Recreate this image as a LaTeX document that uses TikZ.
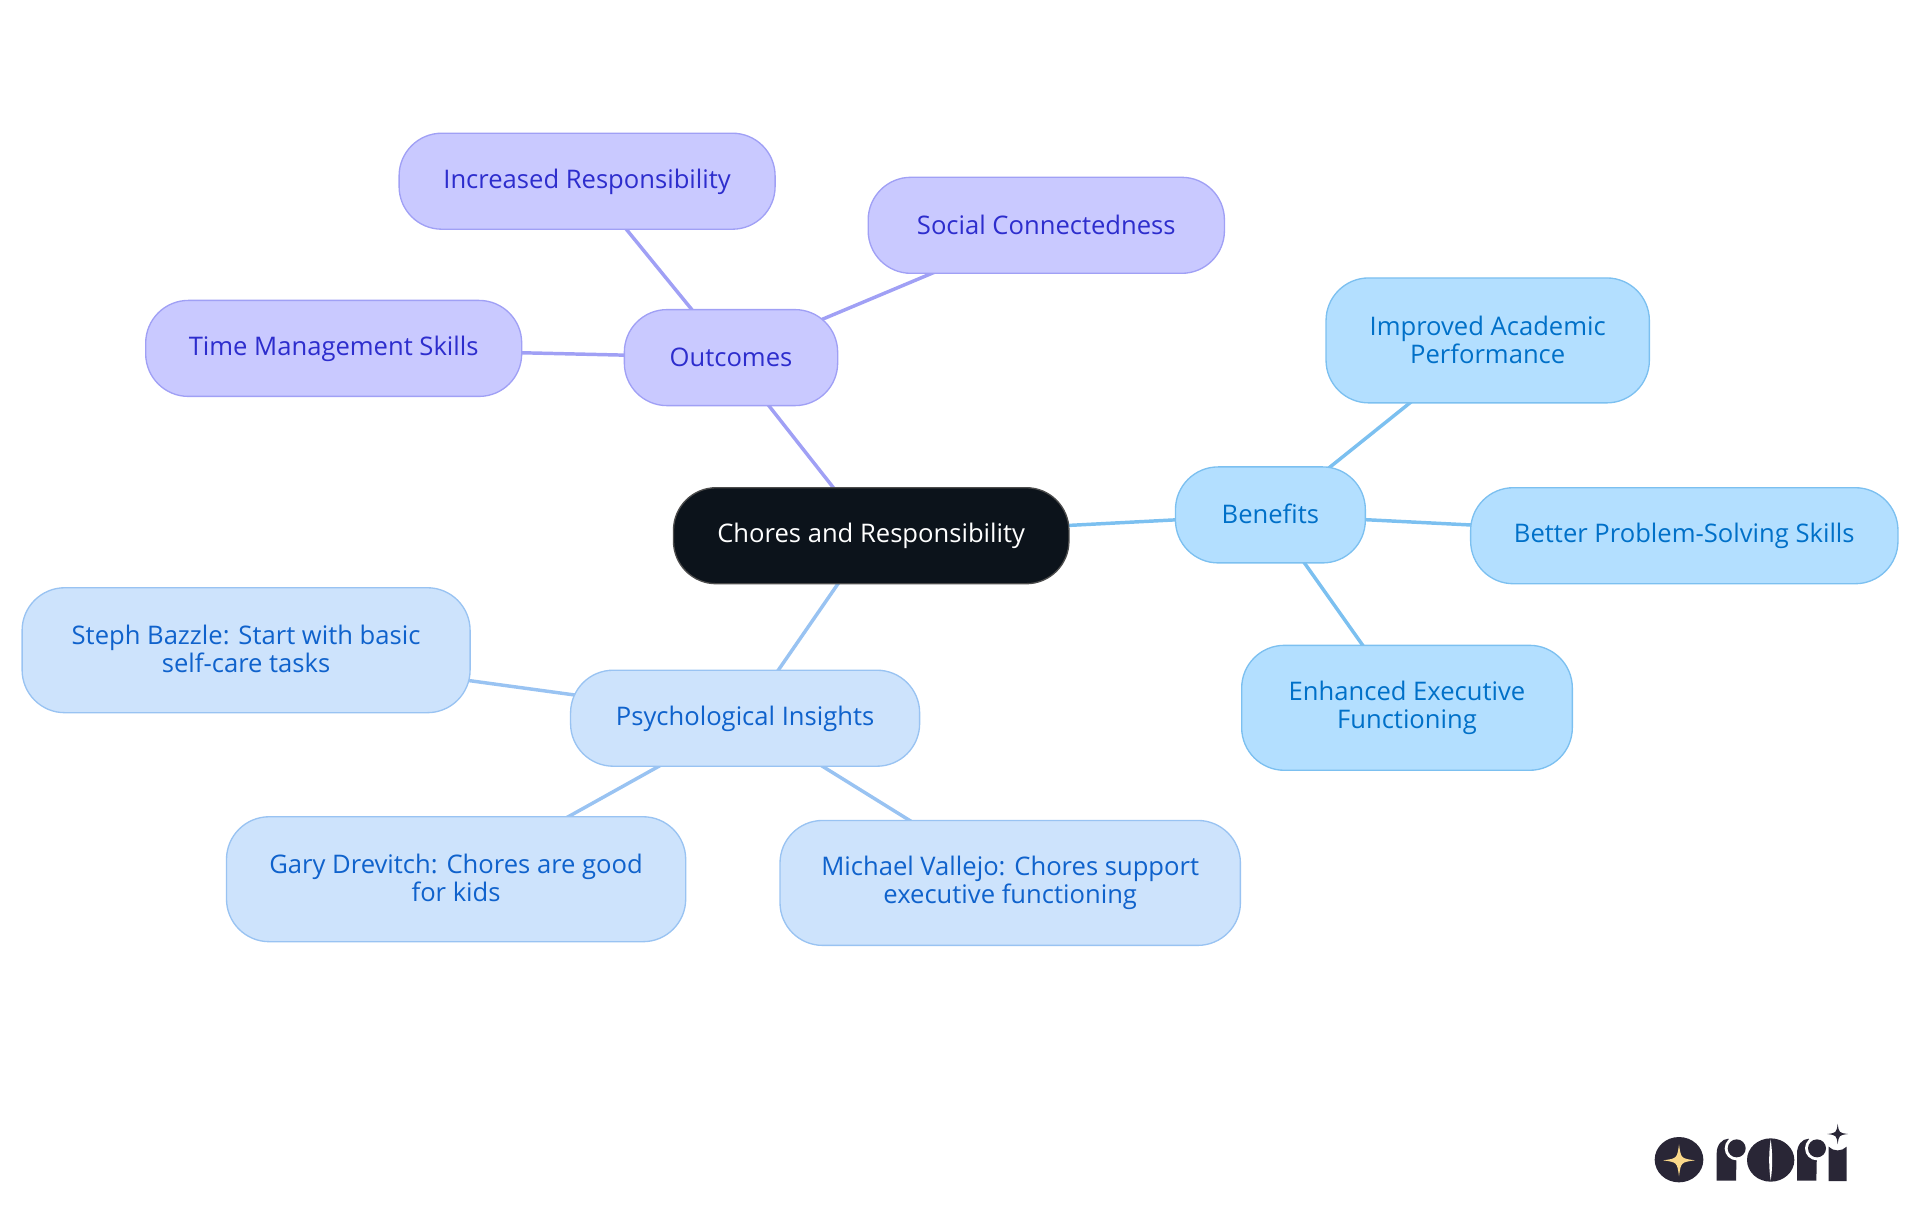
\documentclass[tikz,border=0pt]{standalone}
\usepackage{fontspec}
\setmainfont{Open Sans}
\usetikzlibrary{backgrounds,positioning}
\definecolor{inkroot}{HTML}{0C131B}
\definecolor{fillpurple}{HTML}{C9C9FF}
\definecolor{linepurple}{HTML}{A0A0F5}
\definecolor{textpurple}{HTML}{2D2DCD}
\definecolor{fillblue}{HTML}{B3DFFF}
\definecolor{lineblue}{HTML}{7CC0F0}
\definecolor{textblue}{HTML}{0070C8}
\definecolor{fillsky}{HTML}{CDE3FC}
\definecolor{linesky}{HTML}{99C3F2}
\definecolor{textsky}{HTML}{0F62CC}
\definecolor{logoink}{HTML}{292636}
\definecolor{logogold}{HTML}{FBD98A}

\begin{document}
\begin{tikzpicture}[x=0.75pt,y=-0.75pt]

\tikzset{mapnode/.style={rounded corners=32pt,line width=1pt,align=center,inner sep=0pt,minimum height=72pt,font=\fontsize{19.2pt}{21pt}\selectfont,execute at begin node=\rule{0pt}{15pt},execute at end node=\rule[-1.6pt]{0pt}{1.6pt}},
tallnode/.style={minimum height=93.7pt},
rootnode/.style={mapnode,fill=inkroot,draw=black!70,text=white},
purplenode/.style={mapnode,fill=fillpurple,draw=linepurple,text=textpurple},
bluenode/.style={mapnode,fill=fillblue,draw=lineblue,text=textblue},
skynode/.style={mapnode,fill=fillsky,draw=linesky,text=textsky},
purpleedge/.style={draw=linepurple,line width=2.6pt},
blueedge/.style={draw=lineblue,line width=2.6pt},
skyedge/.style={draw=linesky,line width=2.6pt},
sparkle/.pic={\fill[pic actions] (0,-1) .. controls (0.12,-0.12) .. (1,0) .. controls (0.12,0.12) .. (0,1) .. controls (-0.12,0.12) .. (-1,0) .. controls (-0.12,-0.12) .. cycle;}}

\useasboundingbox (0,0) rectangle (1920,1215);

% Root
\node[rootnode,minimum width=296.6pt] (root) at (871.2,535.7) {Chores and Responsibility};

% Outcomes
\node[purplenode,minimum width=160pt] (outcomes) at (731,357.6) {Outcomes};
\node[purplenode,minimum width=282pt] (increased) at (587.1,181.2) {Increased Responsibility};
\node[purplenode,minimum width=267.2pt] (social) at (1046.3,225.3) {Social Connectedness};
\node[purplenode,minimum width=282pt] (timeskills) at (333.7,348.4) {Time Management Skills};

% Benefits
\node[bluenode,minimum width=142.4pt] (benefits) at (1270.4,514.9) {Benefits};
\node[bluenode,tallnode,minimum width=242.5pt] (academic) at (1487.7,340.4) {Improved Academic\\Performance};
\node[bluenode,minimum width=320.5pt] (problem) at (1684.3,535.7) {Better Problem-Solving Skills};
\node[bluenode,tallnode,minimum width=248pt] (executive) at (1407,707.8) {Enhanced Executive\\Functioning};

% Psychological insights
\node[skynode,minimum width=261.8pt] (insights) at (745.1,718.2) {Psychological Insights};
\node[skynode,tallnode,minimum width=336pt] (steph) at (246.1,650.2) {Steph Bazzle: Start with basic\\self-care tasks};
\node[skynode,tallnode,minimum width=344.4pt] (gary) at (456.1,879.2) {Gary Drevitch: Chores are good\\for kids};
\node[skynode,tallnode,minimum width=345.3pt] (michael) at (1010.2,882.9) {Michael Vallejo: Chores support\\executive functioning};

% Edges
\begin{scope}[on background layer]
\draw[purpleedge] (root.center) -- (outcomes.center);
\draw[purpleedge] (outcomes.center) -- (increased.center);
\draw[purpleedge] (outcomes.center) -- (social.center);
\draw[purpleedge] (outcomes.center) -- (timeskills.center);
\draw[blueedge] (root.center) -- (benefits.center);
\draw[blueedge] (benefits.center) -- (academic.center);
\draw[blueedge] (benefits.center) -- (problem.center);
\draw[blueedge] (benefits.center) -- (executive.center);
\draw[skyedge] (root.center) -- (insights.center);
\draw[skyedge] (insights.center) -- (steph.center);
\draw[skyedge] (insights.center) -- (gary.center);
\draw[skyedge] (insights.center) -- (michael.center);
\end{scope}

% Logo
\begin{scope}[shift={(1600,1090)},x=0.25pt,y=-0.25pt]
\fill[logoink] (237,209) circle [x radius=73,y radius=68];
\pic[fill=logogold,scale=48] at (237,211) {sparkle};
\foreach \dx in {0,241} {
  \fill[logoink] (350+\dx,272) -- (350+\dx,190) .. controls (350+\dx,165) and (365+\dx,147) .. (385+\dx,146) -- (410+\dx,175) -- (408+\dx,272) -- cycle;
  \fill[white] (410+\dx,175) circle [x radius=36,y radius=36];
  \fill[logoink] (410+\dx,175) circle [x radius=27,y radius=27];
}
\fill[logoink] (512,210) circle [x radius=71,y radius=65];
\fill[white] (512,148) .. controls (506,190) and (506,230) .. (512,272) .. controls (518,230) and (518,190) .. (512,148) -- cycle;
\fill[logoink] (686,273) -- (686,170) .. controls (700,185) and (725,185) .. (740,170) -- (740,273) -- cycle;
\pic[fill=logoink,scale=31] at (713,132) {sparkle};
\end{scope}

\end{tikzpicture}
\end{document}
